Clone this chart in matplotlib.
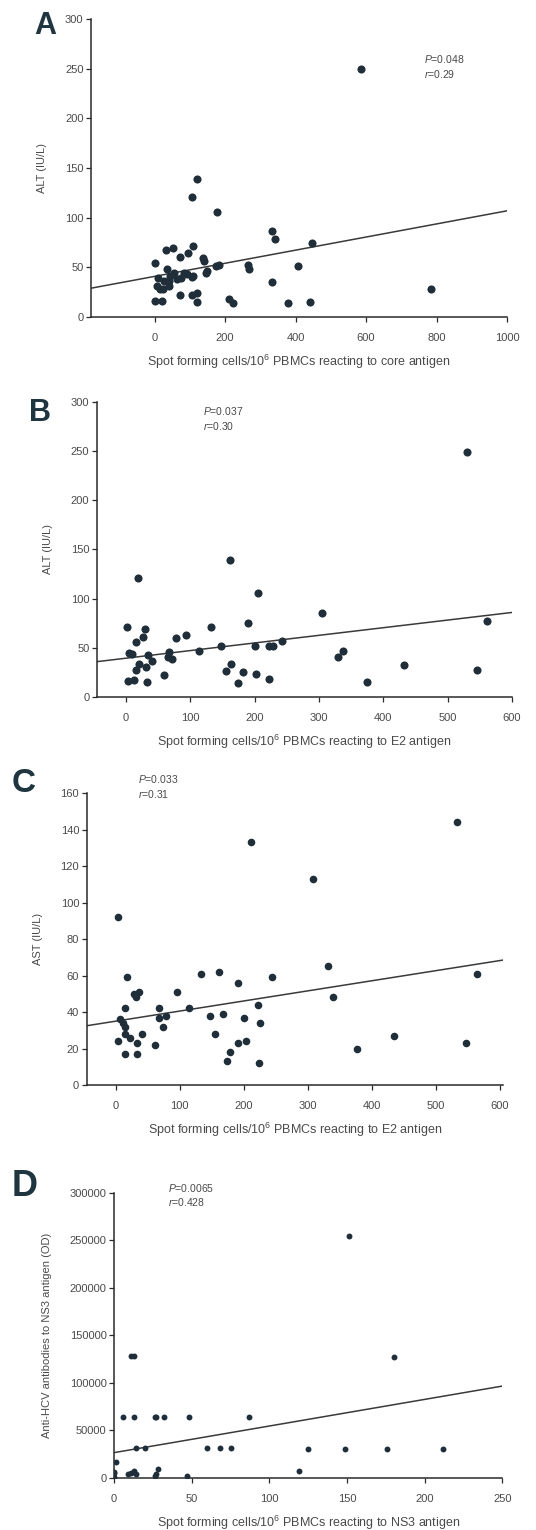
import numpy as np
import matplotlib
matplotlib.use('Agg')
import matplotlib.pyplot as plt

plt.rcParams['font.family'] = ['Liberation Sans', 'DejaVu Sans']
plt.rcParams['mathtext.fontset'] = 'custom'
plt.rcParams['mathtext.rm'] = 'Liberation Sans'
plt.rcParams['mathtext.it'] = 'Liberation Sans:italic'

# --- panel A: core antigen vs ALT ---
coreX = [585, 121, 106, 176, 334, 343, 447, 0, 33, 53, 108, 95, 72, 137, 140, 182, 173,
         266, 268, 407, 333, 784, 378, 440, 212, 223, 119, 121, 105, 71, 0, 21, 9, 14,
         34, 55, 26, 41, 45, 74, 83, 110, 93, 149, 145, 41, 64, 8, 25, 107]
coreAlt = [250, 139, 121, 106, 87, 79, 74, 54, 67, 69, 71, 64, 60, 59, 56, 52, 51,
           52, 48, 51, 35, 28, 14, 15, 18, 14, 15, 24, 22, 22, 16, 16, 39, 28,
           48, 44, 36, 31, 41, 39, 44, 41, 43, 46, 44, 36, 38, 31, 28, 40]
fitA = (40.9, 0.066)

# --- panel B: E2 antigen vs ALT ---
e2X = [530, 162, 18, 206, 305, 562, 1, 30, 132, 189, 94, 78, 27, 15, 5, 10, 34, 147,
       200, 222, 228, 242, 114, 67, 72, 65, 41, 21, 31, 329, 337, 433, 545, 164, 155,
       182, 202, 222, 174, 375, 32, 3, 13, 59, 15]
e2Alt = [249, 139, 121, 106, 85, 77, 71, 69, 71, 75, 63, 60, 61, 56, 45, 44, 43, 52,
         52, 52, 52, 57, 47, 46, 39, 41, 37, 34, 31, 41, 47, 33, 28, 34, 27,
         25, 23, 18, 14, 15, 15, 16, 17, 22, 28]
fitB = (39.5, 0.0775)

# --- panel C: E2 antigen vs AST ---
e2Xc = [533, 211, 309, 4, 332, 564, 133, 162, 18, 244, 192, 96, 36, 28, 32, 339, 115,
        68, 14, 223, 148, 168, 78, 67, 201, 7, 11, 74, 226, 14, 155, 435, 15, 22, 41,
        4, 33, 61, 191, 204, 547, 377, 14, 34, 178, 174, 224]
e2Ast = [144, 133, 113, 92, 65, 61, 61, 62, 59, 59, 56, 51, 51, 50, 48, 48, 42,
         42, 42, 44, 38, 39, 38, 37, 37, 36, 34, 32, 34, 32, 28, 27, 28, 26, 28,
         24, 23, 22, 23, 24, 23, 20, 17, 17, 18, 13, 12]
fitC = (35.0, 0.0553)

# --- panel D: NS3 antigen vs anti-HCV ---
ns3X = [151, 11, 13, 180, 6, 13, 26, 27, 32, 48, 87, 14, 20, 60, 68, 75, 125, 149,
        176, 212, 1, 119, 28, 0, 0, 9, 11, 13, 14, 26, 27, 47, 0]
ns3Ab = [255000, 128800, 128800, 127000, 64000, 64000, 64000, 64000, 64000, 64000,
         64000, 32000, 32000, 32000, 32000, 32000, 31000, 31000, 30000, 30000,
         17000, 7000, 9000, 5000, 1000, 4000, 5000, 7000, 4000, 2000, 4000, 2000, 6000]
fitD = (26700, 280)

dotColor  = '#1f2e38'
lineColor = '#3a3a3a'
textColor = '#4a4a4a'

fig = plt.figure(figsize=(5.36, 15.30), dpi=100)

panels = [
  dict(rect=[0.170, 0.7928, 0.776, 0.1948], x=coreX, y=coreAlt, fit=fitA,
       xlim=(-180, 1000), ylim=(0, 300), xt=[0, 200, 400, 600, 800, 1000],
       yt=[0, 50, 100, 150, 200, 250, 300],
       xlab=r'Spot forming cells/10$^6$ PBMCs reacting to core antigen',
       ylab='ALT (IU/L)', stat=('0.048', '0.29'), spos=(0.80, 0.866),
       letter='A', lpos=(0.063, 0.993), lsize=22, ms=34),
  dict(rect=[0.181, 0.5444, 0.774, 0.1929], x=e2X, y=e2Alt, fit=fitB,
       xlim=(-45, 600), ylim=(0, 300), xt=[0, 100, 200, 300, 400, 500, 600],
       yt=[0, 50, 100, 150, 200, 250, 300],
       xlab=r'Spot forming cells/10$^6$ PBMCs reacting to E2 antigen',
       ylab='ALT (IU/L)', stat=('0.037', '0.30'), spos=(0.255, 0.97),
       letter='B', lpos=(0.054, 0.740), lsize=22, ms=34),
  dict(rect=[0.162, 0.2908, 0.776, 0.1909], x=e2Xc, y=e2Ast, fit=fitC,
       xlim=(-45, 605), ylim=(0, 160), xt=[0, 100, 200, 300, 400, 500, 600],
       yt=[0, 20, 40, 60, 80, 100, 120, 140, 160],
       xlab=r'Spot forming cells/10$^6$ PBMCs reacting to E2 antigen',
       ylab='AST (IU/L)', stat=('0.033', '0.31'), spos=(0.123, 1.048),
       letter='C', lpos=(0.022, 0.498), lsize=24, ms=30),
  dict(rect=[0.213, 0.0340, 0.724, 0.1863], x=ns3X, y=ns3Ab, fit=fitD,
       xlim=(0, 250), ylim=(0, 300000), xt=[0, 50, 100, 150, 200, 250],
       yt=[0, 50000, 100000, 150000, 200000, 250000, 300000],
       xlab=r'Spot forming cells/10$^6$ PBMCs reacting to NS3 antigen',
       ylab='Anti-HCV antibodies to NS3 antigen (OD)', stat=('0.0065', '0.428'),
       spos=(0.139, 1.018), letter='D', lpos=(0.022, 0.236), lsize=26, ms=18),
]

for p in panels:
  ax = fig.add_axes(p['rect'])
  ax.scatter(p['x'], p['y'], s=p['ms'], color=dotColor, zorder=3, linewidths=0)
  xs = np.array(p['xlim'])
  ax.plot(xs, p['fit'][0] + p['fit'][1] * xs, '-', color=lineColor, lw=1.1, zorder=2)
  ax.set_xlim(p['xlim'])
  ax.set_ylim(p['ylim'])
  ax.set_xticks(p['xt'])
  ax.set_yticks(p['yt'])
  ax.spines['top'].set_visible(False)
  ax.spines['right'].set_visible(False)
  for s in ('left', 'bottom'):
    ax.spines[s].set_color('#2a2a2a')
    ax.spines[s].set_linewidth(1.1)
  ax.tick_params(axis='both', labelsize=8, colors='#2a2a2a', labelcolor=textColor,
                 length=3.5, width=0.9)
  ax.tick_params(axis='x', pad=8)
  ax.tick_params(axis='y', pad=2)
  ax.set_xlabel(p['xlab'], fontsize=9, color=textColor, labelpad=7)
  ax.set_ylabel(p['ylab'], fontsize=8, color=textColor, labelpad=13)
  ax.text(p['spos'][0], p['spos'][1], r'$\it{P}$=' + p['stat'][0], transform=ax.transAxes,
          fontsize=7.5, color=textColor, va='center', ha='left')
  ax.text(p['spos'][0], p['spos'][1] - 0.05, r'$\it{r}$=' + p['stat'][1], transform=ax.transAxes,
          fontsize=7.5, color=textColor, va='center', ha='left')
  fig.text(p['lpos'][0], p['lpos'][1], p['letter'], fontsize=p['lsize'], fontweight='bold',
           color='#1f3540', ha='left', va='top')

fig.savefig('out.png', dpi=100)
